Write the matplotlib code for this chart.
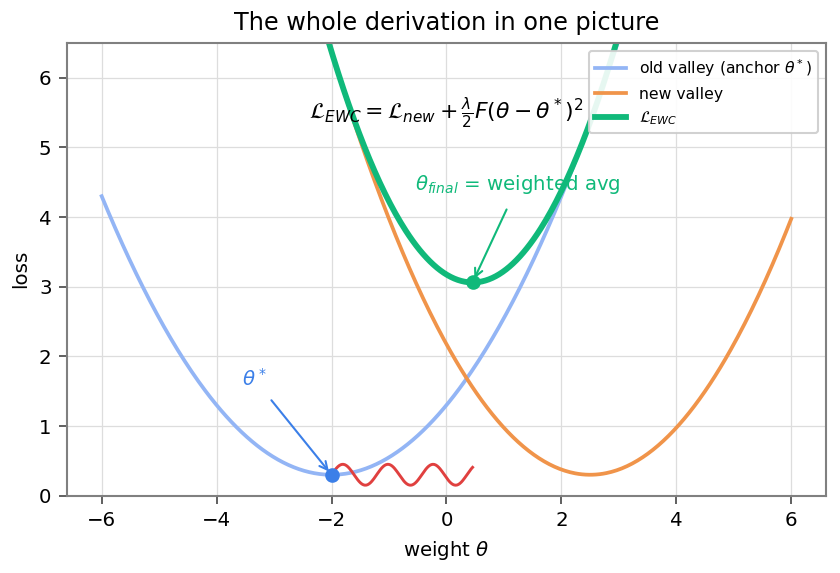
import numpy as np
import matplotlib
matplotlib.use("Agg")
import matplotlib.pyplot as plt

# curve parameters
theta_star = -2.0
old_min = 0.3
old_k = 0.25
new_center = 2.5
new_min = 0.3
new_k = 0.3
ewc_k = 0.25          # lambda/2 * F
wiggle_amp = 0.15
wiggle_freq = 8.0

theta = np.linspace(-6, 6, 400)
old_loss = old_k * (theta - theta_star) ** 2 + old_min
new_loss = new_k * (theta - new_center) ** 2 + new_min
ewc_loss = new_loss + ewc_k * (theta - theta_star) ** 2

theta_final = (new_k * new_center + ewc_k * theta_star) / (new_k + ewc_k)
ewc_final = (new_k * (theta_final - new_center) ** 2 + new_min
             + ewc_k * (theta_final - theta_star) ** 2)

wig_x = np.linspace(theta_star, theta_final, 200)
wig_y = old_min + wiggle_amp * np.sin(wiggle_freq * (wig_x - theta_star))

plt.rcParams['font.family'] = ['DejaVu Sans']
fig, ax = plt.subplots(figsize=(5.6, 3.82), dpi=150)

ax.plot(theta, old_loss, color='#93b5f5', lw=1.8, label=r'old valley (anchor $\theta^*$)')
ax.plot(theta, new_loss, color='#f0944a', lw=1.8, label='new valley')
ax.plot(theta, ewc_loss, color='#10b97a', lw=2.8, label=r'$\mathcal{L}_{EWC}$')
ax.plot(wig_x, wig_y, color='#e0403f', lw=1.4)

ax.plot([theta_star], [old_min], 'o', color='#3b7fe8', ms=6, zorder=5)
ax.plot([theta_final], [ewc_final], 'o', color='#10b97a', ms=6, zorder=5)

ax.annotate(r'$\theta^*$', xy=(theta_star, old_min), xytext=(-3.35, 1.68),
            color='#3b7fe8', fontsize=9.5, ha='center', va='center',
            arrowprops=dict(arrowstyle='->', color='#3b7fe8', lw=1.0,
                            shrinkA=4, shrinkB=2))
ax.annotate(r'$\theta_{final}$ = weighted avg', xy=(theta_final, ewc_final),
            xytext=(1.25, 4.47), color='#10b97a', fontsize=9.5,
            ha='center', va='center',
            arrowprops=dict(arrowstyle='->', color='#10b97a', lw=1.0,
                            shrinkA=5, shrinkB=2))

ax.text(0.0, 5.5, r'$\mathcal{L}_{EWC} = \mathcal{L}_{new} + \frac{\lambda}{2}F(\theta-\theta^*)^2$',
        ha='center', va='center', fontsize=10.5)

ax.set_ylim(0, 6.5)
ax.set_xlim(-6.6, 6.6)
ax.set_xticks([-6, -4, -2, 0, 2, 4, 6])
ax.set_yticks([0, 1, 2, 3, 4, 5, 6])
ax.grid(True, color='#dddddd', lw=0.6)
ax.set_axisbelow(True)
for s in ax.spines.values():
    s.set_color('#808080')
    s.set_linewidth(1.0)
ax.tick_params(labelsize=9.5, color='#444444', length=4)

ax.set_xlabel(r'weight $\theta$', fontsize=9.5)
ax.set_ylabel('loss', fontsize=9.5)
ax.set_title('The whole derivation in one picture', fontsize=11.5)
ax.legend(loc='upper right', fontsize=7.5, framealpha=0.9)

fig.subplots_adjust(left=0.08, right=0.983, top=0.925, bottom=0.135)
fig.savefig('out.png', dpi=150)
